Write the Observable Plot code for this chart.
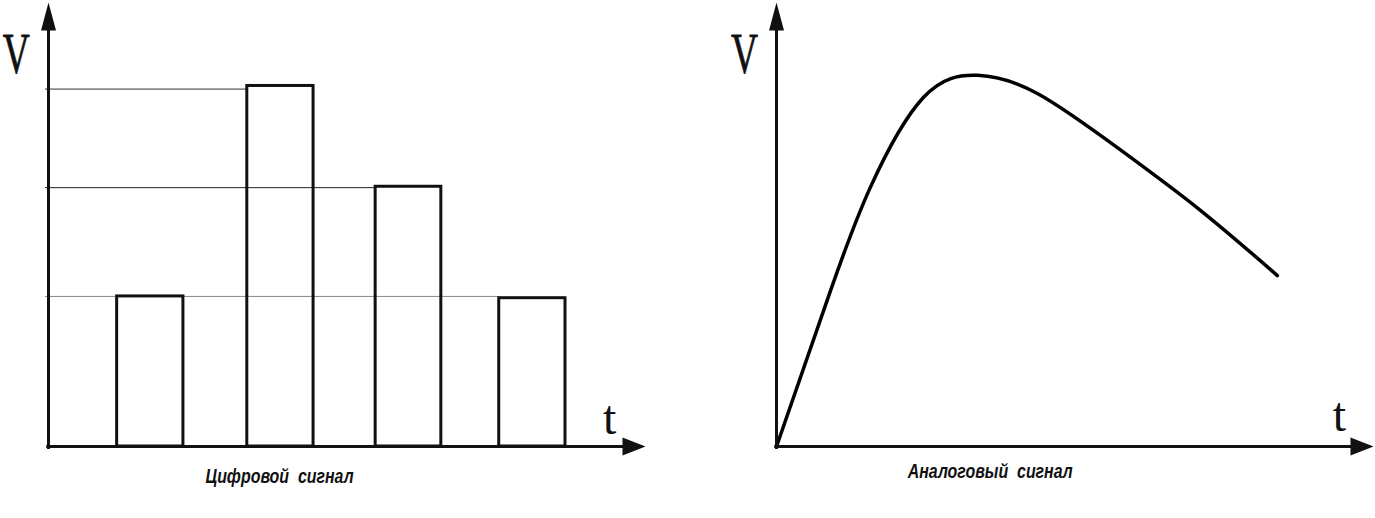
<!DOCTYPE html>
<html>
<head>
<meta charset="utf-8">
<script src="https://cdn.jsdelivr.net/npm/d3@7"></script>
<script src="https://cdn.jsdelivr.net/npm/@observablehq/plot@0.6"></script>
<style>
  html, body { margin: 0; padding: 0; background: #fff; }
  #wrap { display: flex; width: 1375px; height: 518px; overflow: hidden; }
  #wrap svg { display: block; overflow: visible; }
</style>
</head>
<body>
<div id="wrap"></div>
<script>
// ---- Digital signal (left panel) ----
const barStart = [11.5, 33.3, 54.8, 75.5];
const barEnd   = [22.6, 44.4, 65.8, 86.6];
const barValue = [3.38, 8.12, 5.85, 3.34];
const levelValue = [8.05, 5.83, 3.38];
const levelEnd   = [33.3, 54.8, 75.5];
const levelColor = ["#333", "#222", "#888"];

// ---- Analog signal (right panel) ----
const curveT = [0, 9.05, 15.7, 24.6, 33.7, 43.7, 57.1, 71.0, 83.9];
const curveV = [0, 3.51, 5.83, 7.86, 8.36, 7.95, 6.73, 5.32, 3.85];

const axisLabels = ["V", "t"];
const captions = ["Цифровой  сигнал", "Аналоговый  сигнал"];

const bars = barStart.map((x1, i) => ({x1, x2: barEnd[i], v: barValue[i]}));
const levels = levelValue.map((v, i) => ({v, x2: levelEnd[i], c: levelColor[i]}));
const curve = curveT.map((t, i) => ({t, v: curveV[i]}));

const arrowUp = {draw(ctx) { ctx.moveTo(0, 0); ctx.lineTo(-7.5, 28); ctx.lineTo(7.5, 28); ctx.closePath(); }};
const arrowRight = {draw(ctx) { ctx.moveTo(0, 0); ctx.lineTo(-23, -9); ctx.lineTo(-23, 9); ctx.closePath(); }};

const serif = "'Liberation Serif', 'DejaVu Serif', serif";
const sans = "'Liberation Sans', Arial, sans-serif";

function axesMarks(vx, vy, tx, ty) {
  return [
    Plot.ruleX([0], {y1: -0.07, y2: 9.4, stroke: "#111", strokeWidth: 3}),
    Plot.ruleY([0], {x1: -0.3, x2: 97, stroke: "#111", strokeWidth: 3}),
    Plot.dot([{x: 0, y: 10}], {x: "x", y: "y", symbol: arrowUp, fill: "#111", stroke: "none"}),
    Plot.dot([{x: 100, y: 0}], {x: "x", y: "y", symbol: arrowRight, fill: "#111", stroke: "none"}),
    Plot.text([axisLabels[0]], {x: vx, y: vy, text: d => d, fontFamily: serif, fontSize: 58, lineAnchor: "bottom", textAnchor: "middle", fill: "#111", stroke: "#111", strokeWidth: 0.8}),
    Plot.text([axisLabels[1]], {x: tx, y: ty, text: d => d, fontFamily: serif, fontSize: 48, lineAnchor: "bottom", textAnchor: "middle", fill: "#111"})
  ];
}

const left = Plot.plot({
  width: 700, height: 518,
  marginLeft: 48, marginRight: 55, marginTop: 2, marginBottom: 72,
  x: {domain: [0, 100], axis: null},
  y: {domain: [0, 10], axis: null},
  marks: [
    Plot.ruleY(levels, {y: "v", x1: -0.5, x2: "x2", stroke: "c", strokeWidth: 1}),
    Plot.rect(bars, {x1: "x1", x2: "x2", y1: 0, y2: "v", fill: "none", stroke: "#111", strokeWidth: 3}),
    ...axesMarks(-5.4, 8.42, 94.0, 0.29),
    Plot.text([captions[0]], {x: 38.7, y: -0.83, text: d => d, fontFamily: sans, fontSize: 21, fontWeight: "bold", fontStyle: "italic", lineAnchor: "bottom", textAnchor: "middle", fill: "#111"})
  ]
});

const right = Plot.plot({
  width: 675, height: 518,
  marginLeft: 76, marginRight: 2, marginTop: 2, marginBottom: 72,
  x: {domain: [0, 100], axis: null},
  y: {domain: [0, 10], axis: null},
  marks: [
    Plot.line(curve, {x: "t", y: "v", curve: "natural", stroke: "#000", strokeWidth: 3.5}),
    ...axesMarks(-5.36, 8.42, 94.3, 0.34),
    Plot.text([captions[1]], {x: 35.8, y: -0.70, text: d => d, fontFamily: sans, fontSize: 21, fontWeight: "bold", fontStyle: "italic", lineAnchor: "bottom", textAnchor: "middle", fill: "#111"})
  ]
});

document.getElementById("wrap").append(left, right);

// Condense the glyphs to match the reference's narrow lettering
const fitWidth = {"V": 27, "Цифровой  сигнал": 148, "Аналоговый  сигнал": 165};
d3.selectAll("#wrap text").each(function() {
  const w = fitWidth[this.textContent];
  if (w) d3.select(this).attr("textLength", w).attr("lengthAdjust", "spacingAndGlyphs");
});
</script>
</body>
</html>
